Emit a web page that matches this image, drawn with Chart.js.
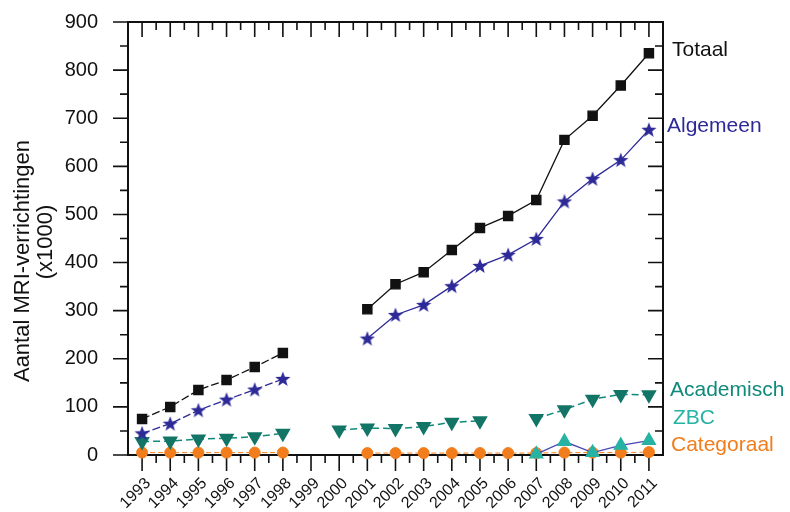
<!DOCTYPE html>
<html>
<head>
<meta charset="utf-8">
<script src="https://cdn.jsdelivr.net/npm/chart.js@4.4.1/dist/chart.umd.min.js"></script>
<style>
  html, body { margin: 0; padding: 0; background: #fff; }
  #wrap { width: 790px; height: 512px; }
</style>
</head>
<body>
<div id="wrap"><canvas id="mriChart" width="790" height="512"></canvas></div>
<script>
// Data (x1000 MRI procedures)
const years = ["1993", "1994", "1995", "1996", "1997", "1998", "1999", "2000", "2001", "2002",
               "2003", "2004", "2005", "2006", "2007", "2008", "2009", "2010", "2011"];
const totaal     = [75, 100, 135, 156, 183, 212, null, null, 303, 355, 380, 426, 472, 497, 530, 655, 705, 768, 835];
const algemeen   = [45, 65, 93, 115, 136, 158, null, null, 242, 291, 312, 351, 393, 416, 449, 527, 574, 613, 676];
const academisch = [28, 29, 33, 35, 38, 45, null, 52, 56, 55, 59, 68, 71, null, 76, 94, 116, 126, 125];
const zbc        = [null, null, null, null, null, null, null, null, null, null, null, null, null, null, 2, 28, 5, 20, 30];
const categoraal = [5, 5, 5, 5, 5, 5, null, null, 4, 4, 4, 4, 4, 4, 4, 5, 5, 5, 6];
const seriesNames = ["Totaal", "Algemeen", "Academisch", "ZBC", "Categoraal"];
const yTitle = ["Aantal MRI-verrichtingen", "(x1000)"];

const FONT = "'Liberation Sans', Arial, sans-serif";
const colors = {
    totaal: "#111111",
    algemeen: "#2d2a98",
    academisch: "#0f8a7a",
    academischMark: "#137566",
    zbc: "#27b3a3",
    zbcLine: "#4b45b8",
    categoraal: "#f27d1c"
};

// filled five-point star used as marker
function makeStar(size, color) {
    const c = document.createElement("canvas");
    c.width = size; c.height = size;
    const g = c.getContext("2d");
    const cx = size / 2, cy = size / 2 + 0.5, ro = size / 2, ri = ro * 0.42;
    g.beginPath();
    for (let i = 0; i < 10; i++) {
        const r = i % 2 === 0 ? ro : ri;
        const a = -Math.PI / 2 + i * Math.PI / 5;
        g.lineTo(cx + r * Math.cos(a), cy + r * Math.sin(a));
    }
    g.closePath();
    g.fillStyle = color;
    g.fill();
    return c;
}
const star = makeStar(16, colors.algemeen);

// box around the plot with major/minor ticks like the original
const frame = {
    id: "frame",
    beforeDatasetsDraw(chart) {
        const { ctx, chartArea: a, scales: { x, y } } = chart;
        ctx.save();
        ctx.strokeStyle = "#111";
        ctx.lineWidth = 2;
        ctx.strokeRect(a.left, a.top, a.right - a.left, a.bottom - a.top);
        ctx.lineWidth = 1.6;
        ctx.beginPath();
        for (let i = 0; i < years.length; i++) {
            const px = x.getPixelForValue(i);
            ctx.moveTo(px, a.bottom); ctx.lineTo(px, a.bottom + 16);
            ctx.moveTo(px, a.top); ctx.lineTo(px, a.top + 15);
            if (i < years.length - 1) {
                const mx = (px + x.getPixelForValue(i + 1)) / 2;
                ctx.moveTo(mx, a.bottom); ctx.lineTo(mx, a.bottom + 8);
                ctx.moveTo(mx, a.top); ctx.lineTo(mx, a.top + 8);
            }
        }
        const vals = y.ticks.map(t => t.value);
        vals.forEach((v, i) => {
            const py = y.getPixelForValue(v);
            ctx.moveTo(a.left - 15, py); ctx.lineTo(a.left, py);
            ctx.moveTo(a.right - 15, py); ctx.lineTo(a.right, py);
            if (i < vals.length - 1) {
                const my = y.getPixelForValue((v + vals[i + 1]) / 2);
                ctx.moveTo(a.left - 8, my); ctx.lineTo(a.left, my);
                ctx.moveTo(a.right - 8, my); ctx.lineTo(a.right, my);
            }
        });
        ctx.stroke();
        ctx.restore();
    }
};

// y title (two rotated lines) and series names on the right of the plot
const annotations = {
    id: "annotations",
    afterDraw(chart) {
        const { ctx, chartArea: a, scales: { y } } = chart;
        ctx.save();
        ctx.font = "22px " + FONT;
        ctx.fillStyle = "#111";
        ctx.textAlign = "center";
        ctx.textBaseline = "middle";
        [[23, 261], [46, 242]].forEach(([tx, ty], i) => {
            ctx.save();
            ctx.translate(tx, ty);
            ctx.rotate(-Math.PI / 2);
            ctx.fillText(yTitle[i], 0, 0);
            ctx.restore();
        });

        const spots = [
            [842, colors.totaal, 9],
            [684, colors.algemeen, 4],
            [135, colors.academisch, 7],
            [77, colors.zbc, 10],
            [21, colors.categoraal, 8]
        ];
        ctx.font = "21px " + FONT;
        ctx.textAlign = "left";
        seriesNames.forEach((name, i) => {
            ctx.fillStyle = spots[i][1];
            ctx.fillText(name, a.right + spots[i][2], y.getPixelForValue(spots[i][0]));
        });
        ctx.restore();
    }
};

const ctx = document.getElementById("mriChart").getContext("2d");
new Chart(ctx, {
    type: "line",
    data: {
        labels: years,
        datasets: [
            {
                label: seriesNames[0], data: totaal,
                borderColor: colors.totaal, backgroundColor: colors.totaal,
                borderWidth: 1.3,
                segment: { borderDash: c => c.p1DataIndex <= 5 ? [8, 3] : undefined },
                pointStyle: "rect", pointRadius: 6.5, clip: 14
            },
            {
                label: seriesNames[1], data: algemeen,
                borderColor: colors.algemeen, backgroundColor: colors.algemeen,
                borderWidth: 1.3,
                segment: { borderDash: c => c.p1DataIndex <= 5 ? [8, 3] : undefined },
                pointStyle: star, clip: 14
            },
            {
                label: seriesNames[2], data: academisch,
                borderColor: colors.academisch, backgroundColor: colors.academischMark,
                pointBorderColor: colors.academischMark,
                borderWidth: 1.5, borderDash: [7, 4],
                pointStyle: "triangle", rotation: 180, pointRadius: 7.5, clip: 14
            },
            {
                label: seriesNames[3], data: zbc,
                borderColor: colors.zbcLine, backgroundColor: colors.zbc,
                pointBorderColor: colors.zbc,
                borderWidth: 1.3,
                pointStyle: "triangle", pointRadius: 7.5, clip: 14
            },
            {
                label: seriesNames[4], data: categoraal,
                borderColor: colors.categoraal, backgroundColor: colors.categoraal,
                borderWidth: 1, borderDash: [5, 3],
                pointStyle: "circle", pointRadius: 5.5, clip: 14
            }
        ]
    },
    options: {
        responsive: false,
        animation: false,
        devicePixelRatio: 1,
        spanGaps: false,
        layout: { padding: { top: 22, right: 127, left: 0, bottom: 0 } },
        plugins: {
            legend: { display: false },
            tooltip: { enabled: false }
        },
        elements: { line: { tension: 0 } },
        scales: {
            x: {
                offset: true,
                grid: { display: false },
                border: { display: false },
                ticks: {
                    color: "#111",
                    font: { family: FONT, size: 16 },
                    minRotation: 45, maxRotation: 45,
                    autoSkip: false,
                    padding: 11,
                    labelOffset: 6
                },
                afterFit(scale) { scale.height = 57; }
            },
            y: {
                min: 0, max: 900,
                grid: { display: false },
                border: { display: false },
                ticks: {
                    stepSize: 100,
                    color: "#111",
                    font: { family: FONT, size: 20 },
                    padding: 22
                },
                afterFit(scale) {
                    scale.width = 128;
                    scale.paddingTop = 0;
                    scale.paddingBottom = 0;
                }
            }
        }
    },
    plugins: [frame, annotations]
});
</script>
</body>
</html>
